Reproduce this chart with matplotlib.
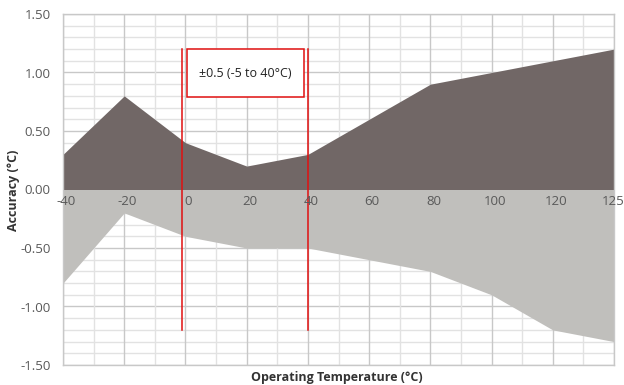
import numpy as np
import matplotlib
matplotlib.use("Agg")
import matplotlib.pyplot as plt
from matplotlib.patches import Rectangle

temps = ["-40", "-20", "0", "20", "40", "60", "80", "100", "120", "125"]
upper = [0.3, 0.8, 0.4, 0.2, 0.3, 0.6, 0.9, 1.0, 1.1, 1.2]
lower = [-0.8, -0.2, -0.4, -0.5, -0.5, -0.6, -0.7, -0.9, -1.2, -1.3]
band_text = "±0.5 (-5 to 40°C)"

plt.rcParams['font.family'] = ['Open Sans', 'DejaVu Sans']

fig = plt.figure(figsize=(6.24, 3.85), dpi=100)
ax = fig.add_axes([63 / 624, 20 / 385, 551 / 624, 351 / 385])

x = np.arange(len(temps))
ax.fill_between(x, 0, upper, color="#716766", lw=0, zorder=2)
ax.fill_between(x, 0, lower, color="#c0bfbc", lw=0, zorder=2)

# grid
for yv in np.arange(-1.5, 1.51, 0.1):
    major = abs(yv * 2 - round(yv * 2)) < 1e-6
    ax.axhline(yv, color="#c8c8c8" if major else "#e2e2e2", lw=1.0, zorder=1)
for xv in np.arange(0, len(temps) - 0.99, 0.5):
    major = abs(xv - round(xv)) < 1e-6
    ax.axvline(xv, color="#c8c8c8" if major else "#e2e2e2", lw=1.0, zorder=1)

# red marker lines and box
for xv in [1.94, 4.0]:
    ax.plot([xv, xv], [1.2, -1.2], color="#e01010", lw=1.1, zorder=4)
ax.add_patch(Rectangle((2.03, 0.79), 1.9, 0.41, facecolor="white",
                       edgecolor="#e01010", lw=1.1, zorder=5))
ax.text(2.98, 0.995, band_text, ha="center", va="center", fontsize=9,
        color="#222222", zorder=6)

ax.set_xlim(0, len(temps) - 1)
ax.set_ylim(-1.5, 1.5)
ax.set_yticks(np.arange(-1.5, 1.51, 0.5))
ax.set_yticklabels(["%.2f" % v for v in np.arange(-1.5, 1.51, 0.5)],
                   color="#595959", fontsize=9.5)
ax.set_xticks([])
ax.tick_params(axis="y", length=0, pad=9)

for i, t in enumerate(temps):
    off = 0.05 if i < len(temps) - 1 else -0.02
    ax.text(i + off, -0.05, t, ha="center", va="top", fontsize=9.5,
            color="#595959", zorder=6)

for s in ax.spines.values():
    s.set_color("#c8c8c8")
    s.set_linewidth(1.0)

fig.text(14 / 624, 1 - 190 / 385, "Accuracy (°C)", rotation=90, ha="center",
         va="center", fontsize=9, fontweight="bold", color="#333333")
fig.text(337 / 624, 1 - 377 / 385, "Operating Temperature (°C)", ha="center",
         va="center", fontsize=9, fontweight="bold", color="#333333")

fig.savefig("out.png", dpi=100)
